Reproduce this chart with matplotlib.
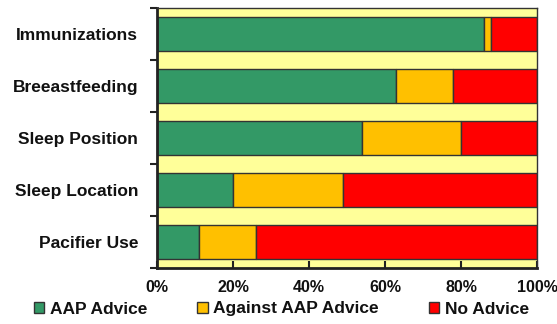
import matplotlib
matplotlib.use("Agg")
import matplotlib.pyplot as plt
import numpy as np
from matplotlib.ticker import FixedLocator, FuncFormatter

categories = ["Immunizations", "Breeastfeeding", "Sleep Position", "Sleep Location", "Pacifier Use"]
aap_advice = [86, 63, 54, 20, 11]
against_aap = [2, 15, 26, 29, 15]
no_advice = [12, 22, 20, 51, 74]
series_names = ["AAP Advice", "Against AAP Advice", "No Advice"]
x_ticks = [0, 20, 40, 60, 80, 100]

colors = ["#339966", "#FFC000", "#FF0000"]

plt.rcParams['font.family'] = ['Liberation Sans', 'DejaVu Sans']
fig = plt.figure(figsize=(5.57, 3.24), dpi=100)
ax = fig.add_axes([157/557, 1-268/324, (537-157)/557, (268-8)/324])
ax.set_facecolor("#FFFF99")

y = np.arange(len(categories))
left = np.zeros(len(categories))
for vals, c, name in zip([aap_advice, against_aap, no_advice], colors, series_names):
    ax.barh(y, vals, left=left, height=0.65, color=c, edgecolor="#333333", linewidth=1.0, label=name)
    left = left + np.array(vals)

ax.set_ylim(len(categories) - 0.5, -0.5)
ax.set_xlim(0, 100)
ax.set_yticks(y)
ax.set_yticklabels(categories, fontsize=12.5, fontweight="bold", color="#111111")
ax.yaxis.set_minor_locator(FixedLocator(np.arange(-0.5, len(categories), 1)))
ax.tick_params(axis="y", which="major", length=0, pad=13.5)
ax.tick_params(axis="y", which="minor", length=5, width=1.5, direction="out", color="#222222")
ax.set_xticks(x_ticks)
ax.xaxis.set_major_formatter(FuncFormatter(lambda v, p: f"{int(v)}%"))
ax.tick_params(axis="x", length=5, width=1.5, direction="in", color="#222222", labelsize=11.5, pad=9)
for lbl in ax.get_xticklabels():
    lbl.set_fontweight("bold")
    lbl.set_color("#111111")

for s in ["left", "bottom"]:
    ax.spines[s].set_linewidth(2.0)
    ax.spines[s].set_color("#222222")
for s in ["top", "right"]:
    ax.spines[s].set_linewidth(1.0)
    ax.spines[s].set_color("#333333")

leg = fig.legend(loc="center", bbox_to_anchor=(0.505, 1-309/324), ncol=3, frameon=False,
                 prop={"weight": "bold", "size": 12.5}, handlelength=0.6, handleheight=0.6,
                 handletextpad=0.3, columnspacing=2.9)
for t in leg.get_texts():
    t.set_color("#111111")

fig.savefig("out.png", dpi=100, facecolor="white")
